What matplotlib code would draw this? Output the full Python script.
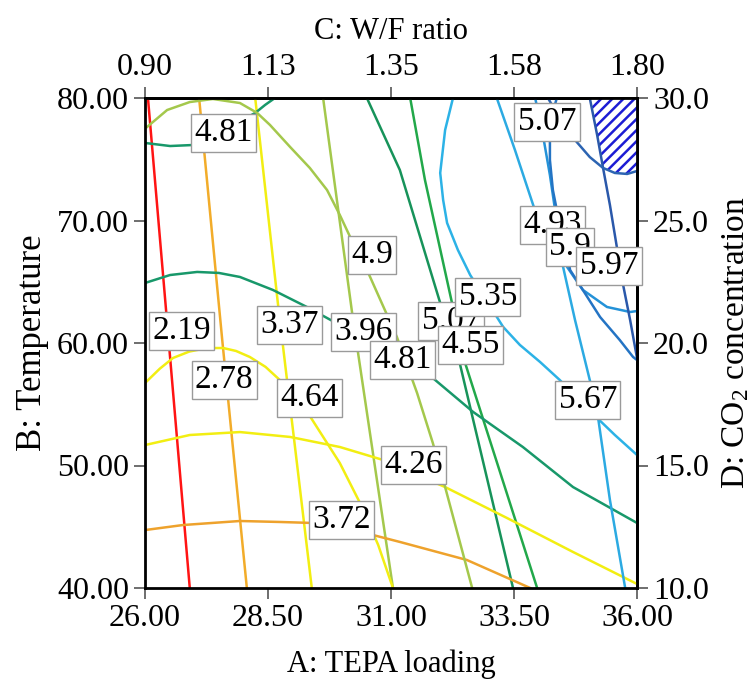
import matplotlib
matplotlib.use("Agg")
import matplotlib.pyplot as plt

plt.rcParams['font.family'] = ['Liberation Serif', 'DejaVu Serif']
plt.rcParams['mathtext.default'] = 'regular'
plt.rcParams['hatch.linewidth'] = 1.8

# contour lines, in (A: TEPA loading, B: Temperature) units
# lines that depend mostly on A
v1_a = [26.06, 26.91]
v1_b = [80.0, 40.0]
v2_a = [27.10, 27.57, 28.07]
v2_b = [80.0, 60.24, 40.0]
v3_a = [28.24, 28.70, 29.39]
v3_b = [80.0, 63.27, 40.0]
v4_a = [29.62, 30.21, 31.04]
v4_b = [80.0, 62.45, 40.0]
v5_a = [30.51, 31.18, 32.00, 32.30, 33.48]
v5_b = [80.0, 74.12, 63.27, 60.00, 40.0]
v6_a = [31.39, 31.69, 32.24, 32.50, 33.97]
v6_b = [80.0, 73.31, 63.27, 58.45, 40.0]

# curved lines
c1_a = [26.0, 26.30, 26.57, 26.90, 27.26, 27.59, 27.85, 28.13, 28.45, 28.74, 29.35, 29.96, 30.37, 30.74, 31.04]
c1_b = [56.73, 57.90, 58.78, 59.30, 59.59, 59.59, 59.35, 58.86, 58.05, 56.98, 54.04, 50.20, 46.94, 43.51, 40.0]
c2_a = [26.0, 26.91, 27.93, 28.95, 29.96, 30.84, 32.10, 33.36, 34.70, 36.0]
c2_b = [51.67, 52.49, 52.73, 52.33, 51.51, 50.45, 48.24, 45.71, 42.94, 40.33]
c3_a = [26.0, 26.77, 27.93, 28.74, 29.39, 30.63, 31.18, 32.54, 33.83]
c3_b = [44.73, 45.14, 45.47, 45.39, 45.31, 44.33, 43.76, 42.29, 40.0]
c4_a = [26.0, 26.51, 27.06, 27.50, 27.93, 28.60, 29.29, 29.96, 30.63, 31.85, 32.67, 33.68, 34.70, 36.0]
c4_b = [64.90, 65.55, 65.80, 65.72, 65.39, 64.33, 62.94, 61.47, 59.59, 57.14, 54.37, 51.51, 48.24, 45.31]
c5_a = [26.0, 26.51, 26.96, 27.60, 28.24, 28.44, 28.64]
c5_b = [76.33, 76.08, 76.16, 77.40, 78.78, 79.43, 80.0]
c6_a = [26.04, 26.45, 26.91, 27.38, 27.93, 28.28, 28.54, 28.95, 29.35, 29.70, 29.96, 30.17, 30.53,
        31.12, 31.53, 31.85, 32.10, 32.65]
c6_b = [77.63, 79.02, 79.67, 79.92, 79.59, 78.78, 77.80, 76.00, 74.29, 72.49, 70.45, 68.65, 65.80,
        60.49, 55.92, 51.84, 48.24, 40.0]

# right-hand group
r1_a = [32.26, 32.10, 32.00, 32.06, 32.14, 32.36, 32.61, 33.28, 33.62, 34.03, 34.43, 35.19, 35.55, 36.0]
r1_b = [80.0, 77.39, 73.88, 71.67, 69.80, 67.59, 65.55, 61.31, 59.84, 58.45, 56.98, 53.88, 52.49, 50.86]
r2_a = [33.15, 33.52, 33.89, 34.13]
r2_b = [80.0, 75.75, 71.26, 68.41]
r7_a = [34.48, 34.74, 35.04, 35.21, 35.45, 35.76]
r7_b = [66.53, 61.88, 56.98, 53.88, 47.18, 40.0]
r3_a = [33.93, 34.07, 34.23, 34.35, 34.50, 34.58, 34.90, 35.39, 35.86, 36.0]
r3_b = [80.0, 77.39, 73.71, 70.45, 68.0, 66.20, 64.33, 62.94, 62.53, 62.61]
r4_a = [34.37, 34.23, 34.23, 34.29, 34.39, 34.55, 34.64, 35.25, 35.65, 35.92, 36.0]
r4_b = [80.0, 77.96, 74.94, 72.49, 70.45, 68.0, 65.96, 62.12, 60.24, 58.86, 58.61]
r5_a = [35.04, 35.19, 35.31, 35.45, 35.59, 35.71, 35.86, 36.0]
r5_b = [80.0, 76.98, 74.29, 71.26, 67.84, 64.90, 61.88, 58.78]
r6_a = [34.19, 34.39, 34.74, 35.04, 35.31, 35.55, 35.80, 36.0]
r6_b = [80.0, 78.61, 76.57, 75.18, 74.29, 73.88, 73.80, 74.04]

# shaded region top right
hatch_a = [35.04, 36.0, 36.0, 35.80, 35.55, 35.31, 35.19]
hatch_b = [80.0, 80.0, 74.04, 73.80, 73.88, 74.29, 76.98]

# contour labels: text, A, B
label_text = ['2.19', '2.78', '3.37', '3.96', '5.07', '4.55',
              '4.64', '4.26', '3.72', '4.81', '4.81', '4.9',
              '5.35', '4.93', '5.67', '5.9', '5.97', '5.07']
label_a = [26.75, 27.61, 28.93, 30.45, 32.22, 32.61,
           29.35, 31.45, 30.00, 31.24, 27.59, 30.61,
           32.97, 34.29, 35.00, 34.64, 35.43, 34.17]
label_b = [60.98, 56.98, 61.47, 60.90, 61.80, 59.84,
           55.51, 50.04, 45.55, 58.61, 77.14, 67.18,
           63.75, 69.63, 55.35, 67.84, 66.29, 78.04]

a_ticks = [26.0, 28.5, 31.0, 33.5, 36.0]
b_ticks = [40.0, 50.0, 60.0, 70.0, 80.0]
c_ticks = [0.90, 1.125, 1.35, 1.575, 1.80]
c_labels = ['0.90', '1.13', '1.35', '1.58', '1.80']
d_ticks = [10.0, 15.0, 20.0, 25.0, 30.0]

lines = [
    (v1_a, v1_b, '#ff1414'),
    (v2_a, v2_b, '#f2ac2a'),
    (v3_a, v3_b, '#f2ee12'),
    (v4_a, v4_b, '#a4c84c'),
    (v5_a, v5_b, '#17935a'),
    (v6_a, v6_b, '#22a84a'),
    (c1_a, c1_b, '#f2ee12'),
    (c2_a, c2_b, '#f2ee12'),
    (c3_a, c3_b, '#eea22c'),
    (c4_a, c4_b, '#18986a'),
    (c5_a, c5_b, '#18986a'),
    (c6_a, c6_b, '#a4c84c'),
    (r1_a, r1_b, '#2cb2e6'),
    (r2_a, r2_b, '#2caae2'),
    (r7_a, r7_b, '#2caae2'),
    (r3_a, r3_b, '#2492d8'),
    (r4_a, r4_b, '#2474c4'),
    (r5_a, r5_b, '#2a58aa'),
    (r6_a, r6_b, '#2c64b2'),
]

fig = plt.figure(figsize=(7.52, 6.92), dpi=100)
ax = fig.add_axes([145 / 752, 1 - 588 / 692, 492 / 752, 490 / 692])

ax.fill(hatch_a, hatch_b, facecolor='white', edgecolor='#1c1cd4', hatch='///', lw=0, zorder=1)
for xs, ys, col in lines:
    ax.plot(xs, ys, color=col, lw=1.8, zorder=2, solid_joinstyle='round')

for t, x, y in zip(label_text, label_a, label_b):
    ax.text(x, y, t, fontsize=24, ha='center', va='center', zorder=5,
            bbox=dict(boxstyle='square,pad=0.1', fc='white', ec='#9a9a9a', lw=1))

ax.set_xlim(26, 36)
ax.set_ylim(40, 80)
ax.set_xticks(a_ticks)
ax.set_xticklabels(['%.2f' % v for v in a_ticks])
ax.set_yticks(b_ticks)
ax.set_yticklabels(['%.2f' % v for v in b_ticks])
ax.set_xlabel('A: TEPA loading', fontsize=22, labelpad=12)
ax.set_ylabel('B: Temperature', fontsize=25, labelpad=6)

top = ax.secondary_xaxis('top', functions=(lambda a: 0.90 + (a - 26) * 0.09,
                                           lambda c: 26 + (c - 0.90) / 0.09))
top.set_xticks(c_ticks)
top.set_xticklabels(c_labels)
top.set_xlabel('C: W/F ratio', fontsize=22, labelpad=10)

right = ax.secondary_yaxis('right', functions=(lambda b: 10 + (b - 40) * 0.5,
                                               lambda d: 40 + (d - 10) / 0.5))
right.set_yticks(d_ticks)
right.set_yticklabels(['%.1f' % v for v in d_ticks])
right.set_ylabel('D: CO$_{2}$ concentration', fontsize=24, labelpad=8)

for a in (ax, top, right):
    a.tick_params(direction='out', length=8, width=1.2, labelsize=23, color='#555555')
for s in ax.spines.values():
    s.set_linewidth(2)
for a in (top, right):
    for s in a.spines.values():
        s.set_linewidth(2)

fig.savefig('out.png', dpi=100)
